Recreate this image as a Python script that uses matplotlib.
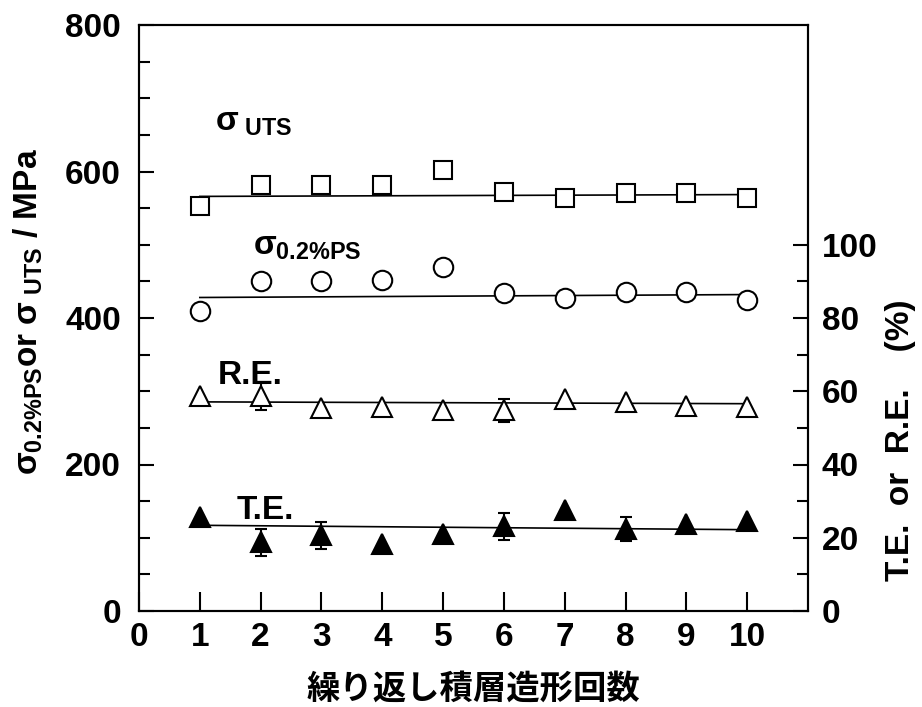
import matplotlib
matplotlib.use('Agg')
import matplotlib.pyplot as plt
from matplotlib.ticker import MultipleLocator, FixedLocator

# bold Arial-like text everywhere, also inside mathtext
plt.rcParams['font.family'] = ['Liberation Sans', 'DejaVu Sans']
plt.rcParams['font.weight'] = 'bold'
plt.rcParams['mathtext.fontset'] = 'custom'
plt.rcParams['mathtext.rm'] = 'Liberation Sans:bold'
plt.rcParams['mathtext.it'] = 'Liberation Sans:bold'
plt.rcParams['mathtext.bf'] = 'Liberation Sans:bold'

# number of repeated additive builds
cycles = [1, 2, 3, 4, 5, 6, 7, 8, 9, 10]

# strengths (MPa, left axis)
uts = [553, 582, 581, 581, 602, 572, 564, 571, 571, 564]
ps02 = [409, 451, 451, 452, 469, 434, 427, 436, 436, 424]

# elongations (%, right axis)
re = [58.8, 58.6, 55.5, 55.8, 55.0, 54.8, 58.0, 57.0, 56.0, 55.6]
te = [25.6, 18.8, 20.7, 18.4, 21.1, 23.1, 27.7, 22.3, 23.7, 24.6]
re_err = [0, 3.7, 0, 0, 0, 3.2, 0, 0, 0, 0]
te_err = [0, 3.7, 3.7, 0, 0, 3.7, 0, 3.3, 0, 0]

# fitted trend lines (value at cycle 1 and cycle 10)
fit_x = [1, 10]
uts_fit = [566, 568.5]
ps_fit = [428, 432]
re_fit = [57.1, 56.6]
te_fit = [23.4, 22.2]

FS = 24

fig = plt.figure(figsize=(9.22, 7.07), dpi=100)
ax = fig.add_axes([139 / 922, 1 - 611 / 707, 669 / 922, 586 / 707])
ax2 = ax.twinx()

lw = 1.2
# trend lines behind the markers
ax.plot(fit_x, uts_fit, color='black', lw=lw, zorder=1)
ax.plot(fit_x, ps_fit, color='black', lw=lw, zorder=1)
ax2.plot(fit_x, re_fit, color='black', lw=lw, zorder=1)
ax2.plot(fit_x, te_fit, color='black', lw=lw, zorder=1)

ax.plot(cycles, uts, ls='none', marker='s', ms=13.5, mfc='white', mec='black',
        mew=1.5, zorder=3)
ax.plot(cycles, ps02, ls='none', marker='o', ms=14, mfc='white', mec='black',
        mew=1.5, zorder=3)


# error bars only where they were measured
def draw_err(axis, vals, err):
    xs = [c for c, e in zip(cycles, err) if e > 0]
    ys = [v for v, e in zip(vals, err) if e > 0]
    es = [e for e in err if e > 0]
    axis.errorbar(xs, ys, yerr=es, fmt='none', ecolor='black', elinewidth=1.5,
                  capsize=4, capthick=1.5, zorder=2)


draw_err(ax2, re, re_err)
draw_err(ax2, te, te_err)

ax2.plot(cycles, re, ls='none', marker='^', ms=14.5, mfc='white', mec='black',
         mew=1.5, zorder=3)
ax2.plot(cycles, te, ls='none', marker='^', ms=14.5, mfc='black', mec='black',
         mew=1.5, zorder=3)

# axes limits / ticks
ax.set_xlim(0, 11)
ax.set_ylim(0, 800)
ax2.set_ylim(0, 160)
ax.set_xticks(range(0, 11))
ax.yaxis.set_major_locator(MultipleLocator(200))
ax.yaxis.set_minor_locator(MultipleLocator(50))
ax2.yaxis.set_major_locator(FixedLocator([0, 20, 40, 60, 80, 100]))
ax2.yaxis.set_minor_locator(FixedLocator([10, 30, 50, 70, 90]))

ax.tick_params(axis='both', which='both', direction='in', width=1.5, labelsize=FS)
ax.tick_params(axis='x', length=14, pad=8)
ax.tick_params(axis='y', which='major', length=11, pad=13)
ax.tick_params(axis='y', which='minor', length=8)
ax2.tick_params(axis='y', which='both', direction='in', width=1.5, labelsize=FS, pad=10)
ax2.tick_params(axis='y', which='major', length=11)
ax2.tick_params(axis='y', which='minor', length=8)
for a in (ax, ax2):
    for s in a.spines.values():
        s.set_linewidth(1.5)

# series labels
ax.text(1.25, 656, r'$\sigma_{\ UTS}$', fontsize=FS)
ax.text(1.88, 486, r'$\sigma_{0.2\%PS}$', fontsize=FS)
ax.text(1.3, 310, 'R.E.', fontsize=FS)
ax.text(1.6, 126, 'T.E.', fontsize=FS)

# axis titles
fig.text(28 / 922, 1 - 312 / 707, r'$\sigma_{0.2\%PS}$or $\sigma_{\ UTS}$ / MPa',
         rotation=90, ha='center', va='center', fontsize=FS)
fig.text(900 / 922, 1 - 440 / 707, 'T.E.  or  R.E.    (%)', rotation=90,
         ha='center', va='center', fontsize=FS)
ax.set_xlabel('繰り返し積層造形回数', fontsize=FS, fontweight='bold',
              family=['Noto Sans CJK JP', 'DejaVu Sans'], labelpad=14)

fig.savefig('out.png', dpi=100)
